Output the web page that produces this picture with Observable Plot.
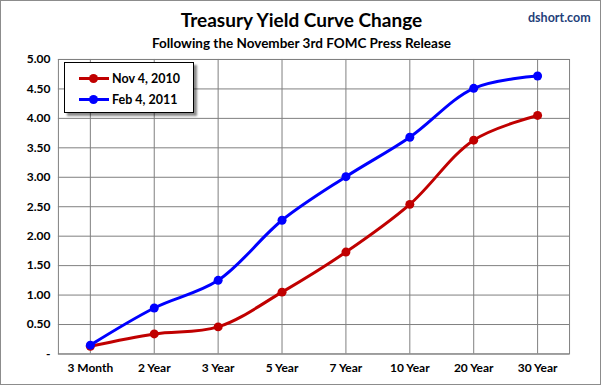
<!DOCTYPE html>
<html>
<head>
<meta charset="utf-8">
<script src="https://cdn.jsdelivr.net/npm/d3@7"></script>
<script src="https://cdn.jsdelivr.net/npm/@observablehq/plot@0.6"></script>
<style>
  html, body { margin: 0; padding: 0; background: #fff; }
  #wrap { position: relative; width: 599px; height: 383px; border: 1px solid #8c8c8c; overflow: hidden; font-family: Lato, "Open Sans", sans-serif; }
  #title { position: absolute; left: 0; width: 601px; top: 7px; text-align: center; font-size: 19px; font-weight: bold; color: #000; }
  #subtitle { position: absolute; left: 0; width: 601px; top: 34px; text-align: center; font-size: 13.5px; font-weight: bold; color: #000; }
  #brand { position: absolute; left: 527px; top: 9px; font-size: 12.5px; font-weight: bold; color: #1f3f7a; }
  #chart { position: absolute; left: -1px; top: 44px; }
  #legend { position: absolute; left: 63px; top: 61px; width: 128px; height: 49px; border: 1px solid #000; background: #fff; box-shadow: 3px 3px 2px rgba(0,0,0,0.45); font-size: 12.5px; font-weight: bold; }
  .item { position: absolute; left: 14px; display: flex; align-items: center; }
  .sw { position: relative; width: 30px; height: 12px; margin-right: 3px; }
  .sw .ln { position: absolute; left: 0; top: 4.5px; width: 30px; height: 3px; }
  .sw .dt { position: absolute; left: 10px; top: 1.5px; width: 9px; height: 9px; border-radius: 50%; }
</style>
</head>
<body>
<div id="wrap">
  <div id="title">Treasury Yield Curve Change</div>
  <div id="subtitle">Following the November 3rd FOMC Press Release</div>
  <div id="brand">dshort.com</div>
  <div id="chart"></div>
  <div id="legend"></div>
</div>
<script>
const maturities = ["3 Month", "2 Year", "3 Year", "5 Year", "7 Year", "10 Year", "20 Year", "30 Year"];
const nov2010 = [0.13, 0.34, 0.46, 1.05, 1.73, 2.54, 3.63, 4.05];
const feb2011 = [0.15, 0.78, 1.25, 2.27, 3.01, 3.68, 4.51, 4.72];
const seriesNames = ["Nov 4, 2010", "Feb 4, 2011"];
const seriesColors = ["#c00000", "#0000ff"];
const yTicks = [0, 0.5, 1, 1.5, 2, 2.5, 3, 3.5, 4, 4.5, 5];

const rows = [];
[nov2010, feb2011].forEach((vals, s) => {
  vals.forEach((v, i) => rows.push({maturity: maturities[i], value: v, series: seriesNames[s]}));
});

const chart = Plot.plot({
  width: 601,
  height: 340,
  marginLeft: 58,
  marginRight: 31,
  marginTop: 14,
  marginBottom: 31,
  style: {fontFamily: "Lato, 'Open Sans', sans-serif", fontSize: "12px", fontWeight: "bold", color: "#000", background: "transparent"},
  x: {type: "point", domain: maturities, label: null, tickSize: 0, tickPadding: 10},
  y: {domain: [0, 5], ticks: yTicks, label: null, tickSize: 0, tickPadding: 8,
      tickFormat: d => d === 0 ? "-" : d.toFixed(2)},
  color: {domain: seriesNames, range: seriesColors},
  marks: [
    Plot.gridY(yTicks, {stroke: "#808080", strokeOpacity: 1, strokeWidth: 1}),
    Plot.gridX(maturities, {stroke: "#808080", strokeOpacity: 1, strokeWidth: 1}),
    Plot.frame({stroke: "#808080"}),
    Plot.line(rows, {x: "maturity", y: "value", z: "series", stroke: "series", strokeWidth: 3, curve: "catmull-rom"}),
    Plot.dot(rows, {x: "maturity", y: "value", fill: "series", r: 4.5})
  ]
});
document.getElementById("chart").appendChild(chart);

const legend = document.getElementById("legend");
seriesNames.forEach((name, i) => {
  const it = document.createElement("div");
  it.className = "item";
  it.style.top = (i === 0 ? 8 : 29) + "px";
  it.innerHTML = `<div class="sw"><div class="ln" style="background:${seriesColors[i]}"></div><div class="dt" style="background:${seriesColors[i]}"></div></div><span>${name}</span>`;
  legend.appendChild(it);
});
</script>
</body>
</html>
